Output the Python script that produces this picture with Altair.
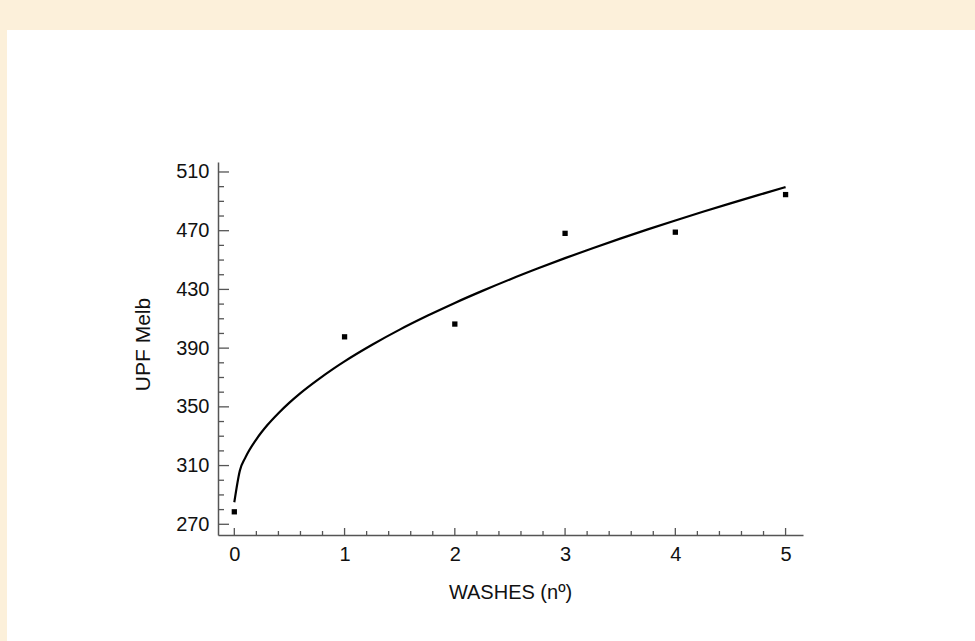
import altair as alt
import pandas as pd

# Observed data points
wash_x = [0, 1, 2, 3, 4, 5]
upf_y = [278.5, 397.7, 406.4, 468.2, 469.0, 494.6]

# Fitted curve
curve_x = [0, 0.05, 0.1, 0.2, 0.3, 0.4, 0.5, 0.6, 0.75, 0.9, 1, 1.25, 1.5, 1.75,
           2, 2.25, 2.5, 2.75, 3, 3.25, 3.5, 3.75, 4, 4.25, 4.5, 4.75, 5]
curve_y = [285, 306.5, 315.4, 327.9, 337.6, 345.7, 352.9, 359.4, 368.1, 376.1,
           381, 392.3, 402.6, 412, 420.8, 429, 436.8, 444.2, 451.3, 458.1,
           464.6, 470.9, 477, 482.9, 488.6, 494.2, 499.7]

# Tick positions
y_major = [270, 310, 350, 390, 430, 470, 510]
y_minor = [280, 290, 300, 320, 330, 340, 360, 370, 380, 400, 410, 420,
           440, 450, 460, 480, 490, 500]
x_major = [0, 1, 2, 3, 4, 5]
x_minor = [0.2, 0.4, 0.6, 0.8, 1.2, 1.4, 1.6, 1.8, 2.2, 2.4, 2.6, 2.8,
           3.2, 3.4, 3.6, 3.8, 4.2, 4.4, 4.6, 4.8]

pts = pd.DataFrame({"x": wash_x, "y": upf_y})
curve = pd.DataFrame({"x": curve_x, "y": curve_y})

xscale = alt.Scale(domain=[-0.148, 5.158], nice=False, zero=False)
yscale = alt.Scale(domain=[262.7, 516.8], nice=False, zero=False)

FONT = "Liberation Sans"

xaxis = alt.Axis(
    values=x_major, ticks=False, grid=False, domainColor="#555555", domainWidth=1.5,
    labelFontSize=20, labelFont=FONT, labelColor="#111111", labelPadding=9,
    title="WASHES (nº)", titleFont=FONT, titleFontSize=20, titleFontWeight="normal",
    titleColor="#111111", titleX=292, titleY=57, titleBaseline="middle",
    titleAlign="center", zindex=1, format="d",
)
yaxis = alt.Axis(
    values=y_major, ticks=False, grid=False, domainColor="#555555", domainWidth=1.5,
    labelFontSize=20, labelFont=FONT, labelColor="#111111", labelPadding=9,
    title="UPF Melb", titleFont=FONT, titleFontSize=21, titleFontWeight="normal",
    titleColor="#111111", titleX=-75, titleY=182, titleAngle=270,
    titleBaseline="middle", titleAlign="center", zindex=1,
)

bg = alt.Chart(pd.DataFrame({"a": [0]})).mark_rect(color="white", clip=False).encode(
    x=alt.value(-211), x2=alt.value(757), y=alt.value(-132), y2=alt.value(479)
)

ymaj = alt.Chart(pd.DataFrame({"y": y_major})).mark_rule(color="#555555", strokeWidth=1.3).encode(
    y=alt.Y("y:Q", scale=yscale, axis=yaxis), x=alt.value(0), x2=alt.value(11)
)
ymin = alt.Chart(pd.DataFrame({"y": y_minor})).mark_rule(color="#555555", strokeWidth=1.3).encode(
    y=alt.Y("y:Q", scale=yscale, axis=yaxis), x=alt.value(0), x2=alt.value(6)
)
xmaj = alt.Chart(pd.DataFrame({"x": x_major})).mark_rule(color="#555555", strokeWidth=1.3).encode(
    x=alt.X("x:Q", scale=xscale, axis=xaxis), y=alt.value(373), y2=alt.value(366)
)
xmin = alt.Chart(pd.DataFrame({"x": x_minor})).mark_rule(color="#555555", strokeWidth=1.3).encode(
    x=alt.X("x:Q", scale=xscale, axis=xaxis), y=alt.value(373), y2=alt.value(369)
)

line = alt.Chart(curve).mark_line(color="black", strokeWidth=2.2, interpolate="monotone").encode(
    x=alt.X("x:Q", scale=xscale, axis=xaxis),
    y=alt.Y("y:Q", scale=yscale, axis=yaxis),
)
points = alt.Chart(pts).mark_square(color="black", size=28, opacity=1).encode(
    x=alt.X("x:Q", scale=xscale, axis=xaxis),
    y=alt.Y("y:Q", scale=yscale, axis=yaxis),
)

chart = alt.layer(bg, ymaj, ymin, xmaj, xmin, line, points).properties(
    width=585, height=373,
    autosize=alt.AutoSizeParams(type="none"),
    padding={"left": 218, "top": 162, "right": 172, "bottom": 106},
    background="#FCF0DA",
).configure_view(stroke=None)

chart.save("out.html", embed_options={"renderer": "svg", "actions": False})
